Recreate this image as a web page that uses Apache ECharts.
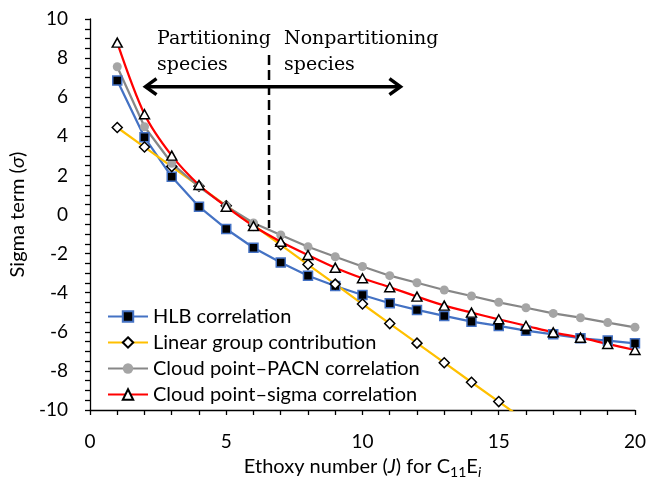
<!DOCTYPE html>
<html>
<head>
<meta charset="utf-8">
<script src="https://cdn.jsdelivr.net/npm/echarts@6/dist/echarts.min.js"></script>
<style>html,body{margin:0;padding:0;background:#fff}#c{width:649px;height:485px}</style>
</head>
<body>
<div id="c"></div>
<script>
const ethoxy = [1,2,3,4,5,6,7,8,9,10,11,12,13,14,15,16,17,18,19,20];
const hlb = [6.85,3.95,1.93,0.40,-0.74,-1.70,-2.46,-3.13,-3.66,-4.12,-4.54,-4.88,-5.19,-5.48,-5.70,-5.94,-6.13,-6.33,-6.45,-6.59];
const linearGC = [4.45,3.45,2.45,1.45,0.45,-0.55,-1.55,-2.56,-3.56,-4.58,-5.58,-6.58,-7.58,-8.58,-9.57,-10.57,-11.57,-12.57,-13.57,-14.57];
const pacn = [7.56,4.49,2.62,1.42,0.43,-0.43,-1.05,-1.65,-2.16,-2.66,-3.13,-3.49,-3.86,-4.17,-4.49,-4.77,-5.06,-5.28,-5.53,-5.77];
const sigmaCorr = [8.79,5.13,3.01,1.51,0.40,-0.59,-1.39,-2.07,-2.72,-3.26,-3.72,-4.20,-4.66,-5.02,-5.36,-5.69,-6.03,-6.30,-6.62,-6.93];
const seriesNames = ['HLB correlation','Linear group contribution','Cloud point\u2013PACN correlation','Cloud point\u2013sigma correlation'];
const xTicks = {min:0,max:20,interval:5};
const yTicks = {min:-10,max:10,interval:2};

const pairs = a => ethoxy.map((x,i)=>[x,a[i]]);
const F = 'Lato';
const chart = echarts.init(document.getElementById('c'));
chart.setOption({
  animation:false,
  grid:{left:90,right:11,top:19,bottom:75},
  xAxis:{type:'value',min:xTicks.min,max:xTicks.max,interval:xTicks.interval,
    axisLine:{onZero:false,lineStyle:{color:'#000',width:1.3}},
    axisTick:{show:true,length:5,lineStyle:{color:'#000',width:1.3}},
    minorTick:{show:true,splitNumber:5,length:5,lineStyle:{color:'#000',width:1.3}},
    splitLine:{show:false},
    axisLabel:{margin:22,fontFamily:F,fontSize:19,color:'#000'},
    name:'{a|Ethoxy number (}{i|J}{a|) for C}{s|11}{a|E}{si|i}',
    nameLocation:'middle',nameGap:44,
    nameTextStyle:{rich:{
      a:{fontFamily:F,fontSize:20,color:'#000'},
      i:{fontFamily:F,fontSize:20,fontStyle:'italic',color:'#000'},
      s:{fontFamily:F,fontSize:14,color:'#000',padding:[11,0,0,0]},
      si:{fontFamily:F,fontSize:14,fontStyle:'italic',color:'#000',padding:[11,0,0,0]}
    }}
  },
  yAxis:{type:'value',min:yTicks.min,max:yTicks.max,interval:yTicks.interval,
    axisLine:{show:true,onZero:false,lineStyle:{color:'#000',width:1.3}},
    axisTick:{show:true,length:5,lineStyle:{color:'#000',width:1.3}},
    minorTick:{show:true,splitNumber:4,length:5,lineStyle:{color:'#000',width:1.3}},
    splitLine:{show:false},
    axisLabel:{margin:22,fontFamily:F,fontSize:19,color:'#000'},
    name:'{a|Sigma term (}{i|\u03c3}{a|)}',
    nameLocation:'middle',nameGap:58,nameRotate:90,
    nameTextStyle:{rich:{
      a:{fontFamily:F,fontSize:20,color:'#000'},
      i:{fontFamily:F,fontSize:20,fontStyle:'italic',color:'#000'}
    }}
  },
  legend:{orient:'vertical',left:102,top:301,itemWidth:40,itemHeight:13,itemGap:5,
    textStyle:{fontFamily:F,fontSize:20,color:'#000',lineHeight:21},
    data:seriesNames},
  series:[
    {name:seriesNames[0],type:'line',data:pairs(hlb),symbol:'rect',symbolSize:9,
      lineStyle:{color:'#4472C4',width:2.25},
      itemStyle:{color:'#000',borderColor:'#4472C4',borderWidth:1.5}},
    {name:seriesNames[1],type:'line',data:pairs(linearGC),symbol:'diamond',symbolSize:[10,10],
      lineStyle:{color:'#FFC000',width:2.25},
      itemStyle:{color:'#fff',borderColor:'#000',borderWidth:1.5}},
    {name:seriesNames[2],type:'line',data:pairs(pacn),symbol:'circle',symbolSize:9,
      lineStyle:{color:'#878787',width:2.25},
      itemStyle:{color:'#A5A5A5',borderColor:'#A5A5A5',borderWidth:0}},
    {name:seriesNames[3],type:'line',data:pairs(sigmaCorr),symbol:'triangle',symbolSize:[10,9],smooth:0.3,
      lineStyle:{color:'#FF0000',width:2.25},
      itemStyle:{color:'#fff',borderColor:'#000',borderWidth:1.5}}
  ]
});

// annotations positioned in data space
const P = (x,y)=>chart.convertToPixel({gridIndex:0},[x,y]);
const aL = P(2.0,6.54), aR = P(11.43,6.54);
const dT = P(6.57,8.16), dB = P(6.57,-0.69);
const ah = 12, aw = 8;
const serif = 'DejaVu Serif';
chart.setOption({graphic:[
  {type:'line',shape:{x1:aL[0]+2,y1:aL[1],x2:aR[0]-2,y2:aR[1]},style:{stroke:'#000',lineWidth:3.5}},
  {type:'polyline',shape:{points:[[aL[0]+ah,aL[1]-aw],[aL[0]+1,aL[1]],[aL[0]+ah,aL[1]+aw]]},style:{stroke:'#000',lineWidth:3.5,fill:null}},
  {type:'polyline',shape:{points:[[aR[0]-ah,aR[1]-aw],[aR[0]-1,aR[1]],[aR[0]-ah,aR[1]+aw]]},style:{stroke:'#000',lineWidth:3.5,fill:null}},
  {type:'line',shape:{x1:dT[0],y1:dT[1],x2:dB[0],y2:dB[1]},style:{stroke:'#000',lineWidth:2.5,lineDash:[10,5]}},
  {type:'text',left:157,top:30,style:{text:'Partitioning',font:'19px "'+serif+'"',fill:'#000'}},
  {type:'text',left:157,top:56,style:{text:'species',font:'19px "'+serif+'"',fill:'#000'}},
  {type:'text',left:284,top:30,style:{text:'Nonpartitioning',font:'19px "'+serif+'"',fill:'#000'}},
  {type:'text',left:284,top:56,style:{text:'species',font:'19px "'+serif+'"',fill:'#000'}}
]});
</script>
</body>
</html>
